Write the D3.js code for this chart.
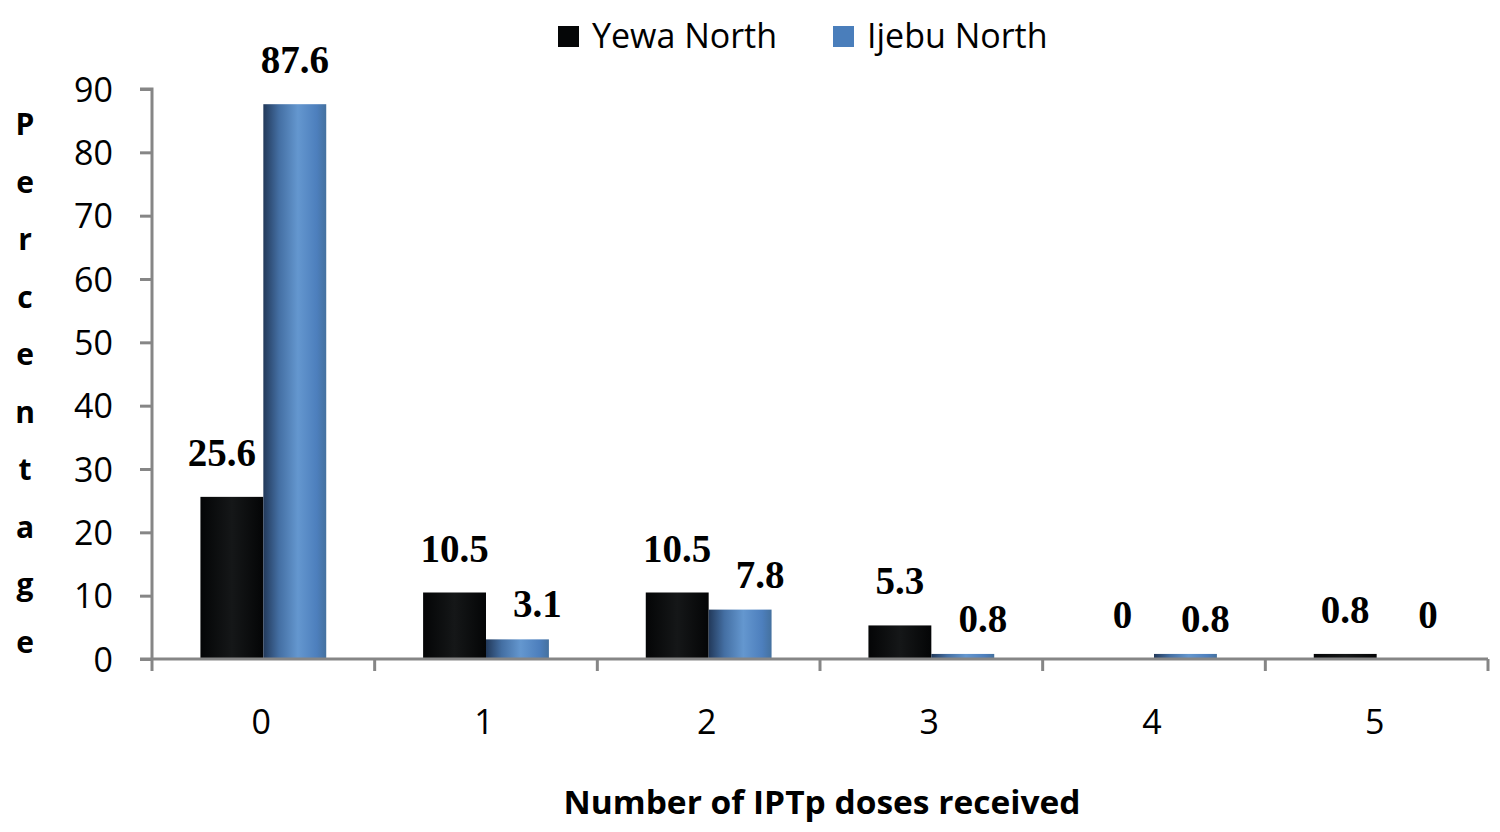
<!DOCTYPE html>
<html>
<head>
<meta charset="utf-8">
<script src="https://cdn.jsdelivr.net/npm/d3@7"></script>
<style>
  body { margin: 0; background: #fff; }
  svg { display: block; }
</style>
</head>
<body>
<script>
var doses = ["0", "1", "2", "3", "4", "5"];
var seriesNames = ["Yewa North", "Ijebu North"];
var yewaNorth = [25.6, 10.5, 10.5, 5.3, 0, 0.8];
var ijebuNorth = [87.6, 3.1, 7.8, 0.8, 0.8, 0];
var yTicks = [0, 10, 20, 30, 40, 50, 60, 70, 80, 90];
var yLabelText = "Percentage";
var xTitle = "Number of IPTp doses received";

var width = 1500, height = 832;
var margin = { top: 89, right: 12, bottom: 173, left: 152 };
var innerW = width - margin.left - margin.right;
var innerH = height - margin.top - margin.bottom;

var svg = d3.select("body").append("svg")
    .attr("width", width)
    .attr("height", height);

// gradients for the cylinder look
var defs = svg.append("defs");
var gBlack = defs.append("linearGradient").attr("id", "gradBlack")
    .attr("x1", "0%").attr("x2", "100%").attr("y1", "0%").attr("y2", "0%");
gBlack.append("stop").attr("offset", "0%").attr("stop-color", "#040506");
gBlack.append("stop").attr("offset", "50%").attr("stop-color", "#151718");
gBlack.append("stop").attr("offset", "100%").attr("stop-color", "#040506");

var gBlue = defs.append("linearGradient").attr("id", "gradBlue")
    .attr("x1", "0%").attr("x2", "100%").attr("y1", "0%").attr("y2", "0%");
gBlue.append("stop").attr("offset", "0%").attr("stop-color", "#22395a");
gBlue.append("stop").attr("offset", "25%").attr("stop-color", "#446fa3");
gBlue.append("stop").attr("offset", "55%").attr("stop-color", "#6497cf");
gBlue.append("stop").attr("offset", "85%").attr("stop-color", "#4d7fbd");
gBlue.append("stop").attr("offset", "100%").attr("stop-color", "#44719f");

var g = svg.append("g")
    .attr("transform", "translate(" + margin.left + "," + margin.top + ")");

var x0 = d3.scaleBand()
    .domain(doses)
    .range([0, innerW])
    .paddingInner(0)
    .paddingOuter(0);

var x1 = d3.scaleBand()
    .domain(seriesNames)
    .range([0, x0.bandwidth()])
    .paddingOuter(0.77)
    .paddingInner(0);

var y = d3.scaleLinear()
    .domain([0, 90])
    .range([innerH, 0]);

var data = doses.map(function(d, i) {
    return { dose: d, values: [
        { name: seriesNames[0], value: yewaNorth[i], other: ijebuNorth[i] },
        { name: seriesNames[1], value: ijebuNorth[i], other: yewaNorth[i] }
    ] };
});

var fills = { "Yewa North": "url(#gradBlack)", "Ijebu North": "url(#gradBlue)" };

var groups = g.selectAll(".group")
    .data(data)
    .enter().append("g")
    .attr("class", "group")
    .attr("transform", function(d) { return "translate(" + x0(d.dose) + ",0)"; });

groups.selectAll("rect")
    .data(function(d) { return d.values; })
    .enter().append("rect")
    .attr("x", function(d) { return x1(d.name); })
    .attr("width", x1.bandwidth())
    .attr("y", function(d) { return y(d.value); })
    .attr("height", function(d) { return innerH - y(d.value); })
    .attr("fill", function(d) { return fills[d.name]; });

// value labels: nudge sideways when the neighbouring bar is in the way
function labelShift(d) {
    if (d.name === "Ijebu North" && d.value < 10) return 20;
    if (d.name === "Yewa North" && d.other > d.value + 5) return -10;
    return 0;
}
function labelLift(d) {
    if (d.name === "Ijebu North" && d.value > 0 && d.value < 10) return 22;
    return 31;
}

groups.selectAll("text.val")
    .data(function(d) { return d.values; })
    .enter().append("text")
    .attr("class", "val")
    .attr("x", function(d) { return x1(d.name) + x1.bandwidth() / 2 + labelShift(d); })
    .attr("y", function(d) { return y(d.value) - labelLift(d); })
    .attr("text-anchor", "middle")
    .attr("font-family", "'Liberation Serif', 'Times New Roman', serif")
    .attr("font-weight", "bold")
    .attr("font-size", 39)
    .attr("fill", "#000")
    .text(function(d) { return d.value; });

// axes
var axisColor = "#868686";

var yAxis = g.append("g")
    .call(d3.axisLeft(y).tickValues(yTicks).tickSize(12).tickPadding(27));
yAxis.select(".domain").attr("stroke", axisColor).attr("stroke-width", 3)
    .attr("d", "M-12," + y(90) + "H0V" + innerH);
yAxis.selectAll(".tick line").attr("stroke", axisColor).attr("stroke-width", 3);
yAxis.selectAll(".tick text")
    .attr("font-family", "'Open Sans', sans-serif")
    .attr("font-size", 34)
    .attr("fill", "#000")
    .attr("dy", "0.36em");

var xAxis = g.append("g")
    .attr("transform", "translate(0," + innerH + ")");
xAxis.append("path")
    .attr("d", "M-12,0H" + innerW)
    .attr("stroke", axisColor)
    .attr("stroke-width", 3)
    .attr("fill", "none");
xAxis.selectAll("line.xt")
    .data(doses.concat(["end"]))
    .enter().append("line")
    .attr("class", "xt")
    .attr("x1", function(d, i) { return i * x0.bandwidth(); })
    .attr("x2", function(d, i) { return i * x0.bandwidth(); })
    .attr("y1", 0)
    .attr("y2", 12)
    .attr("stroke", axisColor)
    .attr("stroke-width", 3);
xAxis.selectAll("text.xl")
    .data(doses)
    .enter().append("text")
    .attr("class", "xl")
    .attr("x", function(d) { return x0(d) + x0.bandwidth() / 2 - 2; })
    .attr("y", 75)
    .attr("text-anchor", "middle")
    .attr("font-family", "'Open Sans', sans-serif")
    .attr("font-size", 34)
    .attr("fill", "#000")
    .text(function(d) { return d; });

// x title
svg.append("text")
    .attr("x", 822)
    .attr("y", 814)
    .attr("text-anchor", "middle")
    .attr("font-family", "'Open Sans', sans-serif")
    .attr("font-weight", "bold")
    .attr("font-size", 32)
    .attr("textLength", 517)
    .attr("lengthAdjust", "spacingAndGlyphs")
    .attr("fill", "#000")
    .text(xTitle);

// vertical stacked y label
var letters = yLabelText.split("");
var yl = d3.scaleLinear().domain([0, letters.length - 1]).range([135, 653]);
svg.selectAll("text.yl")
    .data(letters)
    .enter().append("text")
    .attr("class", "yl")
    .attr("x", 25)
    .attr("y", function(d, i) { return yl(i); })
    .attr("text-anchor", "middle")
    .attr("font-family", "'Open Sans', sans-serif")
    .attr("font-weight", "bold")
    .attr("font-size", 30)
    .attr("fill", "#000")
    .text(function(d) { return d; });

// legend
var legendX = [558, 833];
var legendColors = ["#050607", "#4a7ebb"];
var legend = svg.selectAll("g.leg")
    .data(seriesNames)
    .enter().append("g")
    .attr("class", "leg")
    .attr("transform", function(d, i) { return "translate(" + legendX[i] + ",0)"; });
legend.append("rect")
    .attr("x", 0).attr("y", 26)
    .attr("width", 21).attr("height", 21)
    .attr("fill", function(d, i) { return legendColors[i]; });
legend.append("text")
    .attr("x", 34)
    .attr("y", 48)
    .attr("font-family", "'Open Sans', sans-serif")
    .attr("font-size", 34)
    .attr("fill", "#000")
    .text(function(d) { return d; });
</script>
</body>
</html>
